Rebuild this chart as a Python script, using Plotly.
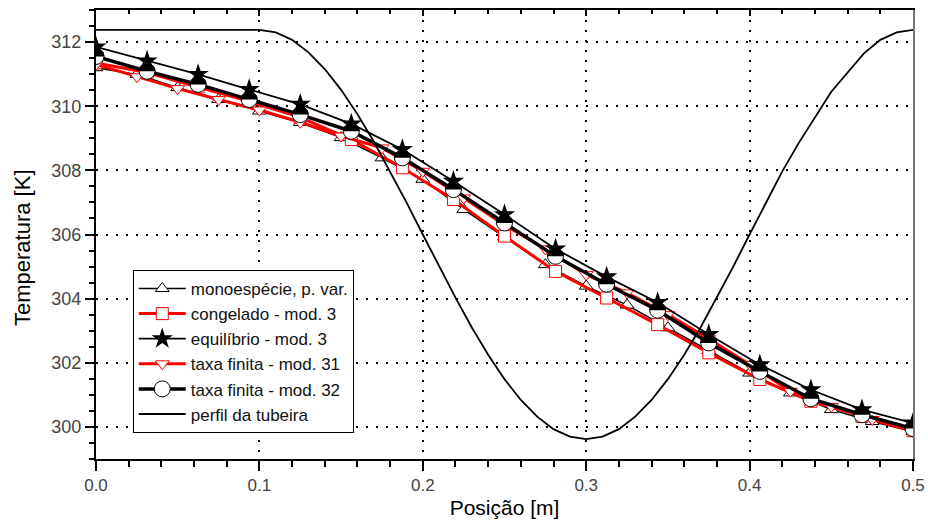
import numpy as np
import plotly.graph_objects as go

# ---------------- data ----------------
# markers every 1/32 of the nozzle length
x_a = [0.0, 0.03125, 0.0625, 0.09375, 0.125, 0.15625, 0.1875, 0.21875, 0.25,
       0.28125, 0.3125, 0.34375, 0.375, 0.40625, 0.4375, 0.46875, 0.5]
congelado = [311.35, 311.05, 310.60, 310.15, 309.65, 308.96, 308.08, 307.09, 305.95,
             304.85, 304.02, 303.19, 302.31, 301.48, 300.80, 300.33, 299.88]
equilibrio = [311.85, 311.41, 310.99, 310.52, 310.06, 309.45, 308.65, 307.66, 306.62,
              305.55, 304.68, 303.88, 302.88, 301.94, 301.16, 300.54, 300.12]
taxa_32 = [311.55, 311.09, 310.68, 310.21, 309.74, 309.22, 308.39, 307.40, 306.36,
           305.32, 304.45, 303.64, 302.62, 301.73, 300.88, 300.38, 299.95]

# markers every 0.025 m
x_b = [0.0, 0.025, 0.05, 0.075, 0.1, 0.125, 0.15, 0.175, 0.2, 0.225, 0.25,
       0.275, 0.3, 0.325, 0.35, 0.375, 0.4, 0.425, 0.45, 0.475, 0.5]
monoespecie = [311.20, 310.99, 310.58, 310.21, 309.85, 309.49, 309.02, 308.39, 307.72,
               306.78, 305.92, 305.06, 304.39, 303.80, 303.09, 302.38, 301.68, 301.06,
               300.54, 300.17, 299.86]
taxa_31 = [311.30, 310.92, 310.55, 310.21, 309.88, 309.50, 309.07, 308.70, 307.97,
           307.14, 306.30, 305.55, 304.75, 304.18, 303.50, 302.75, 301.95, 301.11,
           300.64, 300.23, 299.86]

# nozzle profile (scaled onto the temperature axis)
x_tub = [0.0, 0.10, 0.11, 0.12, 0.13, 0.14, 0.15, 0.16, 0.17, 0.18, 0.19, 0.20,
         0.21, 0.22, 0.23, 0.24, 0.25, 0.26, 0.27, 0.28, 0.29, 0.30, 0.31, 0.32,
         0.33, 0.34, 0.35, 0.36, 0.37, 0.38, 0.39, 0.40, 0.41, 0.42, 0.43, 0.44,
         0.45, 0.46, 0.47, 0.48, 0.49, 0.50]
tubeira = [312.38, 312.38, 312.30, 312.07, 311.68, 311.16, 310.51, 309.75, 308.90,
           307.97, 307.00, 306.00, 305.00, 304.03, 303.10, 302.25, 301.49, 300.84,
           300.32, 299.93, 299.70, 299.62, 299.70, 299.93, 300.32, 300.84, 301.49,
           302.25, 303.10, 304.03, 305.00, 306.00, 307.00, 307.97, 308.85, 309.65,
           310.45, 311.05, 311.65, 312.07, 312.30, 312.38]

names = ["monoespécie, p. var.", "congelado - mod. 3", "equilíbrio - mod. 3",
         "taxa finita - mod. 31", "taxa finita - mod. 32", "perfil da tubeira"]

x_ticks = [0.0, 0.1, 0.2, 0.3, 0.4, 0.5]
y_ticks = [300, 302, 304, 306, 308, 310, 312]
x_range = [0, 0.5]
y_range = [299, 313]

FONT = "Liberation Sans, Arial, sans-serif"
W, H = 928, 522
ML, MR, MT, MB = 96, 15, 10, 63

fig = go.Figure()

fig.add_trace(go.Scatter(
    x=x_b, y=monoespecie, name=names[0], mode="lines+markers", legendrank=1,
    line=dict(color="black", width=1.5),
    marker=dict(symbol="triangle-up", size=12, color="white",
                line=dict(color="black", width=1))))
fig.add_trace(go.Scatter(
    x=x_a, y=congelado, name=names[1], mode="lines+markers", legendrank=2,
    line=dict(color="#ff0000", width=3),
    marker=dict(symbol="square", size=12, color="white",
                line=dict(color="#ff0000", width=1))))
fig.add_trace(go.Scatter(
    x=x_b, y=taxa_31, name=names[3], mode="lines+markers", legendrank=4,
    line=dict(color="#ff0000", width=3),
    marker=dict(symbol="triangle-down", size=12, color="white",
                line=dict(color="#ff0000", width=1))))
fig.add_trace(go.Scatter(
    x=x_a, y=equilibrio, name=names[2], mode="lines+markers", legendrank=3,
    line=dict(color="black", width=1.8),
    marker=dict(symbol="star", size=16, color="black",
                line=dict(color="black", width=0))))
fig.add_trace(go.Scatter(
    x=x_a, y=taxa_32, name=names[4], mode="lines+markers", legendrank=5,
    line=dict(color="black", width=3.5),
    marker=dict(symbol="circle", size=16, color="white",
                line=dict(color="black", width=1))))

# upper black half of the "taxa finita - mod. 32" markers (8 px radius)
px_per_x = (W - ML - MR) / (x_range[1] - x_range[0])
px_per_y = (H - MT - MB) / (y_range[1] - y_range[0])
ang = np.linspace(0, np.pi, 19)
for xv, yv in zip(x_a, taxa_32):
    hx = [float(xv + 8 * np.cos(a) / px_per_x) for a in ang]
    hy = [float(yv + 8 * np.sin(a) / px_per_y) for a in ang]
    fig.add_trace(go.Scatter(x=hx, y=hy, mode="lines", fill="toself",
                             fillcolor="black", line=dict(color="black", width=1),
                             showlegend=False, hoverinfo="skip"))

fig.add_trace(go.Scatter(
    x=x_tub, y=tubeira, name=names[5], mode="lines", legendrank=6,
    line=dict(color="black", width=1.8)))

# dummy trace so that the top / right frame axes are drawn
fig.add_trace(go.Scatter(x=[None], y=[None], xaxis="x2", yaxis="y2",
                         showlegend=False, hoverinfo="skip"))

axis_common = dict(showline=True, linecolor="black", linewidth=2, zeroline=False,
                   automargin=False, tickcolor="black", tickwidth=2,
                   showgrid=True, gridcolor="black", gridwidth=2, griddash="2px,8px")

fig.update_layout(
    width=W, height=H,
    margin=dict(l=ML, r=MR, t=MT, b=MB),
    plot_bgcolor="white", paper_bgcolor="white",
    font=dict(family=FONT, color="black"),
    showlegend=True,
    legend=dict(x=0.045, y=0.421, xanchor="left", yanchor="top",
                bgcolor="white", bordercolor="black", borderwidth=1,
                font=dict(family=FONT, size=17, color="#111"),
                tracegroupgap=0, itemwidth=47),
    xaxis=dict(range=x_range, tickmode="array", tickvals=x_ticks,
               ticktext=[f"{v:.1f}" for v in x_ticks],
               ticks="outside", ticklen=10,
               tickfont=dict(family=FONT, size=17, color="#444"),
               minor=dict(dtick=0.02, tick0=0, ticks="outside", ticklen=6,
                          tickwidth=2, tickcolor="black", showgrid=False),
               title=dict(text="Posição [m]", font=dict(family=FONT, size=21,
                                                          color="black"),
                          standoff=6),
               **axis_common),
    yaxis=dict(range=y_range, tickmode="array", tickvals=y_ticks,
               ticks="outside", ticklen=9,
               tickfont=dict(family=FONT, size=18, color="#444"),
               minor=dict(dtick=0.5, tick0=299, ticks="outside", ticklen=5,
                          tickwidth=2, tickcolor="black", showgrid=False),
               **axis_common),
    xaxis2=dict(range=x_range, overlaying="x", side="top", anchor="y",
                showline=True, linecolor="black", linewidth=2, zeroline=False,
                showgrid=False, showticklabels=False, tickmode="linear",
                tick0=0, dtick=0.1, ticks="inside", ticklen=6, tickwidth=1.5,
                tickcolor="black",
                minor=dict(dtick=0.02, tick0=0, ticks="inside", ticklen=4,
                           tickwidth=1.5, tickcolor="black", showgrid=False)),
    yaxis2=dict(range=y_range, overlaying="y", side="right", anchor="x",
                showline=True, linecolor="#777", linewidth=1.5, zeroline=False,
                showgrid=False, showticklabels=False, ticks=""),
    annotations=[dict(text="Temperatura [K]", textangle=-90, showarrow=False,
                      xref="paper", yref="paper", x=-0.09, y=0.471,
                      xanchor="center", yanchor="middle",
                      font=dict(family=FONT, size=22, color="black"))],
)

fig.write_html("out.html", config={"displayModeBar": False},
               post_script="document.body.style.margin='0';")
